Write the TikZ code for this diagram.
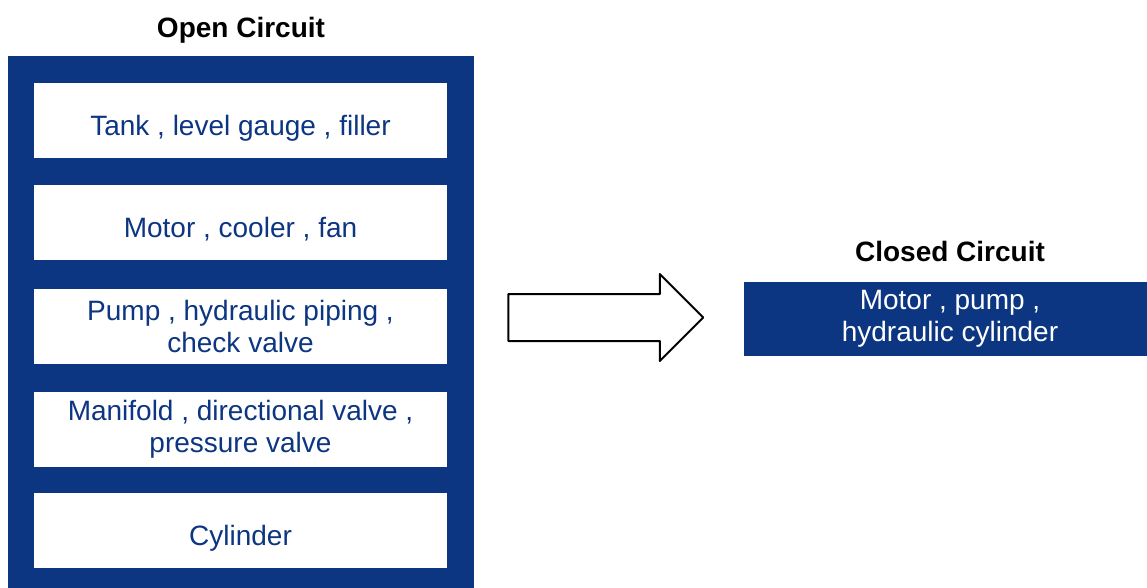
\documentclass[tikz,border=0pt]{standalone}
\usepackage{fontspec}
\setmainfont{Liberation Sans}
\usetikzlibrary{shapes.arrows}
\definecolor{circblue}{RGB}{12,53,130}

\begin{document}
\begin{tikzpicture}[x=1pt,y=-1pt,
    part/.style={fill=white, text=circblue, minimum width=413pt, minimum height=75pt, inner sep=0pt, align=center, font=\fontsize{28}{32}\selectfont},
    oneline/.style={text height=36pt, text depth=6pt},
    title/.style={font=\fontsize{28}{32}\selectfont\bfseries, text depth=0pt}]
    \useasboundingbox (0,0) rectangle (1147,587);

    % Open circuit
    \node[title] (opentitle) at (241,27) {Open Circuit};
    \node[fill=circblue, minimum width=466pt, minimum height=539pt, inner sep=0pt] (frame) at (241,325.5) {};

    \node[part, oneline] (tank) at (240.5,120.5) {Tank , level gauge , filler};
    \node[part, oneline] (motor) at (240.5,222.5) {Motor , cooler , fan};
    \node[part] (pump) at (240.5,326) {Pump , hydraulic piping ,\\check valve};
    \node[part] (manifold) at (240.5,429) {Manifold , directional valve ,\\pressure valve};
    \node[part, oneline] (cylinder) at (240.5,530.5) {Cylinder};

    % Big arrow
    \node[single arrow, draw, fill=white, line width=2pt, line join=round, inner xsep=0pt, inner ysep=22.5pt,
          minimum height=195pt, single arrow head extend=20pt] (arrow) at (594,317.5) {};

    % Closed circuit
    \node[title] (closedtitle) at (950,251) {Closed Circuit};
    \node[part, fill=circblue, text=white, minimum width=412pt, minimum height=74pt] (closed) at (950,318.5) {Motor , pump ,\\hydraulic cylinder};
\end{tikzpicture}
\end{document}
